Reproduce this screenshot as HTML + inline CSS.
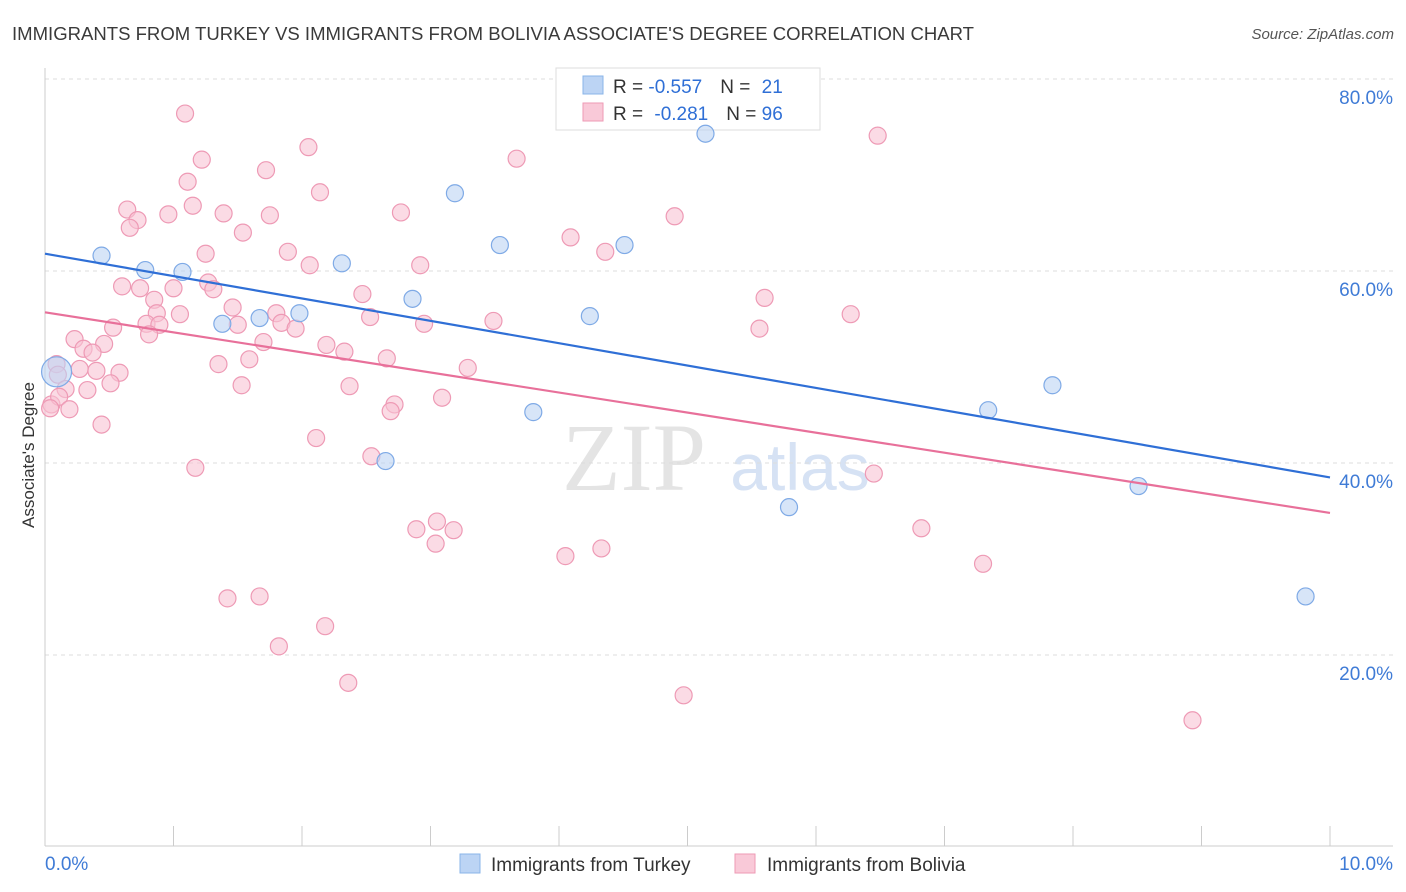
<!DOCTYPE html>
<html><head><meta charset="utf-8">
<style>
body{margin:0;background:#fff;font-family:"Liberation Sans",sans-serif;}
#wrap{position:relative;width:1406px;height:892px;overflow:hidden;}
</style></head>
<body>
<div id="wrap">
<svg id="chart" width="1406" height="892">
<text x="12" y="40" font-size="18" textLength="962" lengthAdjust="spacingAndGlyphs" fill="#3a3a3a">IMMIGRANTS FROM TURKEY VS IMMIGRANTS FROM BOLIVIA ASSOCIATE'S DEGREE CORRELATION CHART</text>
<text x="1394" y="39" font-size="15" fill="#555" font-style="italic" text-anchor="end">Source: ZipAtlas.com</text>
<text x="634" y="490" font-size="96" fill="#e4e4e4" font-family="Liberation Serif,serif" text-anchor="middle">ZIP</text>
<text x="800" y="490" font-size="66" fill="#d6e2f4" text-anchor="middle">atlas</text>
<text transform="translate(34,455) rotate(-90)" font-size="17" fill="#333" text-anchor="middle">Associate's Degree</text>
<g id="grid"></g><g id="axes"></g>
<g>
<rect x="556" y="68" width="264" height="62" fill="#fff" stroke="#ddd"/>
<rect x="583" y="76" width="20" height="18" fill="#bcd4f4" stroke="#8ab4e8"/>
<text x="613" y="93" font-size="19" fill="#333">R = <tspan fill="#2f6fd6">-0.557</tspan><tspan dx="18">N = </tspan><tspan fill="#2f6fd6" dx="6">21</tspan></text>
<rect x="583" y="103" width="20" height="18" fill="#f9c9d8" stroke="#ee9ab5"/>
<text x="613" y="120" font-size="19" fill="#333">R = <tspan fill="#2f6fd6" dx="6">-0.281</tspan><tspan dx="18">N = </tspan><tspan fill="#2f6fd6">96</tspan></text>
</g>
<g id="pts"></g><g id="lines"></g>
<g>
<rect x="460" y="854" width="20" height="19" fill="#bcd4f4" stroke="#8ab4e8"/>
<text x="491" y="871" font-size="19" fill="#333">Immigrants from Turkey</text>
<rect x="735" y="854" width="20" height="19" fill="#f9c9d8" stroke="#ee9ab5"/>
<text x="767" y="871" font-size="19" fill="#333">Immigrants from Bolivia</text>
</g>
</svg>
</div>
<script>
const turkeyX=[0.09,0.44,0.78,1.07,1.38,1.67,1.98,2.31,2.65,2.86,3.19,3.54,3.80,4.24,4.51,5.14,5.79,7.34,7.84,8.51,9.81];
const turkeyY=[49.5,61.6,60.1,59.9,54.5,55.1,55.6,60.8,40.2,57.1,68.1,62.7,45.3,55.3,62.7,74.3,35.4,45.5,48.1,37.6,26.1];
const boliviaX=[1.09,1.22,1.11,1.72,2.05,2.14,3.67,6.48,1.15,0.64,0.72,0.96,1.39,1.75,2.77,4.90,0.66,1.54,1.25,1.89,2.06,2.92,4.09,4.36,0.60,0.74,1.00,1.27,1.31,0.85,1.46,2.47,5.60,0.87,1.05,1.80,2.53,0.79,0.89,1.50,1.84,1.95,2.95,3.49,5.56,6.27,0.53,0.81,0.23,0.46,1.70,2.19,2.33,0.30,0.37,1.59,2.66,1.35,3.29,0.27,0.40,0.58,0.09,0.10,0.16,0.33,0.51,1.53,2.37,0.05,0.11,0.19,2.72,2.69,3.09,0.44,2.11,2.54,1.17,6.45,2.89,3.05,3.18,3.04,4.05,4.33,6.82,7.30,1.42,1.67,2.18,1.82,2.36,4.97,8.93,0.04];
const boliviaY=[76.4,71.6,69.3,70.5,72.9,68.2,71.7,74.1,66.8,66.4,65.3,65.9,66.0,65.8,66.1,65.7,64.5,64.0,61.8,62.0,60.6,60.6,63.5,62.0,58.4,58.2,58.2,58.8,58.1,57.0,56.2,57.6,57.2,55.6,55.5,55.6,55.2,54.5,54.4,54.4,54.6,54.0,54.5,54.8,54.0,55.5,54.1,53.4,52.9,52.4,52.6,52.3,51.6,51.9,51.5,50.8,50.9,50.3,49.9,49.8,49.6,49.4,50.3,49.2,47.7,47.6,48.3,48.1,48.0,46.1,46.9,45.6,46.1,45.4,46.8,44.0,42.6,40.7,39.5,38.9,33.1,33.9,33.0,31.6,30.3,31.1,33.2,29.5,25.9,26.1,23.0,20.9,17.1,15.8,13.2,45.7];
const turkeyTrend=[61.8,38.5];
const boliviaTrend=[55.7,34.8];
const yTicks=[20,40,60,80];
const yTickLabels=["20.0%","40.0%","60.0%","80.0%"];
const xTicks=[0,1,2,3,4,5,6,7,8,9,10];
const xEndLabels=["0.0%","10.0%"];
const NS="http://www.w3.org/2000/svg";
const sx=v=>45+v*128.5, sy=v=>847-v*9.6;
function mk(tag,at,parent){const e=document.createElementNS(NS,tag);for(const k in at)e.setAttribute(k,at[k]);parent.appendChild(e);return e;}
const grid=document.getElementById('grid'),axes=document.getElementById('axes'),lines=document.getElementById('lines'),pts=document.getElementById('pts');
yTicks.forEach((t,i)=>{
 const l=mk('line',{x1:45,x2:1393,y1:sy(t),y2:sy(t),stroke:'#ddd','stroke-dasharray':'4,4'},grid);
 
 
 const tx=mk('text',{x:1393,y:sy(t)+25,'font-size':19,fill:'#3f7bd6','text-anchor':'end'},axes);
 tx.textContent=yTickLabels[i];
 
 
});
const ax=mk('line',{x1:45,x2:1393,y1:846,y2:846,stroke:'#ccc'},axes);


const ay=mk('line',{x1:45,x2:45,y1:68,y2:846,stroke:'#ccc'},axes);


xTicks.forEach(t=>{
 const l=mk('line',{x1:sx(t),x2:sx(t),y1:826,y2:846,stroke:'#ccc'},axes);
 
 
});
const xl0=mk('text',{x:45,y:870,'font-size':19,fill:'#3f7bd6'},axes);xl0.textContent=xEndLabels[0];


const xl1=mk('text',{x:1393,y:870,'font-size':19,fill:'#3f7bd6','text-anchor':'end'},axes);xl1.textContent=xEndLabels[1];


function series(X,Y,fill,stroke,name){
 X.forEach((x,i)=>{
  const c=mk('circle',{cx:sx(x),cy:sy(Y[i]),r:(name==='turkey-point'&&i===0)?15:8.5,fill:fill,'fill-opacity':0.6,stroke:stroke,'stroke-width':1.2},pts);
  
  
 });
}
series(boliviaX,boliviaY,'#f9c3d4','#ee9ab5','bolivia-point');
series(turkeyX,turkeyY,'#bcd4f4','#7faae6','turkey-point');
const tl=mk('line',{x1:sx(0),y1:sy(turkeyTrend[0]),x2:sx(10),y2:sy(turkeyTrend[1]),stroke:'#2f6fd6','stroke-width':2.2},lines);


const bl=mk('line',{x1:sx(0),y1:sy(boliviaTrend[0]),x2:sx(10),y2:sy(boliviaTrend[1]),stroke:'#e8709a','stroke-width':2.2},lines);


</script>
</body></html>
